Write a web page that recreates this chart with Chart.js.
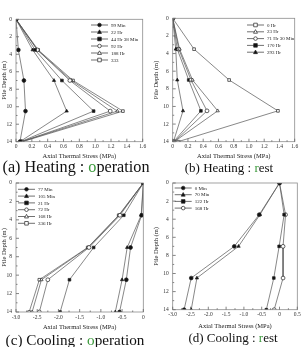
<!DOCTYPE html>
<html>
<head>
<meta charset="utf-8">
<script src="https://cdn.jsdelivr.net/npm/chart.js@4/dist/chart.umd.min.js"></script>
<style>
  body { margin: 0; background: #fff; }
  #wrap { position: relative; width: 305px; height: 347px; overflow: hidden; }
  canvas { position: absolute; }
  .cap { position: absolute; text-align: center; font-family: "Liberation Serif", serif; font-size: 13px; color: #111; white-space: nowrap; }
  .cap span { color: #3c9a3c; }
</style>
</head>
<body>
<div id="wrap">
  <canvas id="pa" width="152" height="160" style="left:0;top:0"></canvas>
  <canvas id="pb" width="153" height="160" style="left:152px;top:0"></canvas>
  <canvas id="pc" width="152" height="160" style="left:0;top:172px"></canvas>
  <canvas id="pd" width="153" height="160" style="left:152px;top:172px"></canvas>
  <div class="cap" style="left:0;top:158px;width:152px;font-size:16.2px">(a) Heating : <span>o</span>peration</div>
  <div class="cap" style="left:153px;top:160px;width:152px">(b) Heating : <span>r</span>est</div>
  <div class="cap" style="left:0;top:331px;width:150px;font-size:15.2px">(c) Cooling : <span>o</span>peration</div>
  <div class="cap" style="left:157px;top:330px;width:152px">(d) Cooling : <span>r</span>est</div>
</div>
<script>
// pile depths (m) where stresses were measured
const depths = [0, 3.5, 7, 10.5, 14];

// (a) heating : operation
const aLabels = ["99 Min", "22 Hr", "44 Hr 38 Min", "92 Hr", "188 Hr", "333"];
const a99 = [0, 0.03, 0.10, 0.12, 0.05];
const a22 = [0, 0.21, 0.48, 0.64, 0.05];
const a44 = [0, 0.24, 0.58, 0.98, 0.06];
const a92 = [0, 0.27, 0.68, 1.19, 0.07];
const a188 = [0, 0.27, 0.70, 1.28, 0.07];
const a333 = [0, 0.28, 0.72, 1.35, 0.08];

// (b) heating : rest
const bLabels = ["0 Hr", "23 Hr", "71 Hr 30 Min", "170 Hr", "293 Hr"];
const b0 = [0, 0.28, 0.74, 1.38, 0.07];
const b23 = [0, 0.09, 0.26, 0.59, 0.02];
const b71 = [0, 0.08, 0.24, 0.45, 0.02];
const b170 = [0, 0.06, 0.21, 0.37, 0.01];
const b293 = [0, 0.04, 0.06, 0.135, 0.01];

// (c) cooling : operation
const cLabels = ["77 Min", "105 Min", "21 Hr", "72 Hr", "168 Hr", "336 Hr"];
const c77 = [0, -0.04, -0.30, -0.40, -0.56];
const c105 = [0, -0.05, -0.38, -0.50, -0.66];
const c21 = [0, -0.46, -1.17, -1.74, -1.96];
const c72 = [0, -0.55, -1.28, -2.25, -2.45];
const c168 = [0, -0.57, -1.30, -2.40, -2.62];
const c336 = [0, -0.58, -1.31, -2.45, -2.69];

// (d) cooling : rest
const dLabels = ["0 Min", "70 Min", "122 Hr", "168 Hr"];
const d0 = [0, -0.57, -1.27, -2.48, -2.68];
const d70 = [0, -0.55, -1.15, -2.32, -2.48];
const d122 = [0, 0.13, -0.01, -0.16, -0.37];
const d168 = [0, 0.17, 0.10, 0.10, -0.15];

const SERIF = "'Liberation Serif', 'DejaVu Serif', serif";

// marker: [pointStyle, filled]
const MARK = {
  fc: ["circle", true], ft: ["triangle", true], fs: ["rect", true],
  oc: ["circle", false], ot: ["triangle", false], os: ["rect", false]
};

function drawMark(ctx, style, filled, x, y, r) {
  ctx.beginPath();
  if (style === "circle") ctx.arc(x, y, r, 0, Math.PI * 2);
  else if (style === "rect") ctx.rect(x - r, y - r, 2 * r, 2 * r);
  else { ctx.moveTo(x, y - r * 1.2); ctx.lineTo(x + r * 1.1, y + r * 0.8); ctx.lineTo(x - r * 1.1, y + r * 0.8); ctx.closePath(); }
  ctx.fillStyle = filled ? "#111" : "#fff";
  ctx.fill();
  ctx.strokeStyle = "#222";
  ctx.lineWidth = 0.7;
  ctx.stroke();
}

const framePlugin = {
  id: "frame",
  afterDraw(chart, args, o) {
    const { ctx, chartArea: a, scales } = chart;
    const xs = scales.x, ys = scales.y;
    ctx.save();
    ctx.strokeStyle = "#8c8c8c";
    ctx.lineWidth = 0.8;
    ctx.strokeRect(a.left, a.top, a.right - a.left, a.bottom - a.top);
    // inward ticks
    ctx.strokeStyle = "#666";
    ctx.beginPath();
    xs.ticks.forEach((t, i) => {
      const px = xs.getPixelForValue(t.value);
      ctx.moveTo(px, a.bottom); ctx.lineTo(px, a.bottom - 3);
      if (i < xs.ticks.length - 1) {
        const mx = xs.getPixelForValue((t.value + xs.ticks[i + 1].value) / 2);
        ctx.moveTo(mx, a.bottom); ctx.lineTo(mx, a.bottom - 1.5);
      }
    });
    ys.ticks.forEach(t => {
      const py = ys.getPixelForValue(t.value);
      const len = t.value % 2 === 0 ? 3 : 1.5;
      ctx.moveTo(a.left, py); ctx.lineTo(a.left + len, py);
    });
    ctx.stroke();
    // axis titles
    ctx.fillStyle = "#222";
    ctx.font = "6.5px " + SERIF;
    ctx.textAlign = "center";
    ctx.textBaseline = "middle";
    ctx.fillText("Axial Thermal Stress (MPa)", (a.left + a.right) / 2, o.xTitleY);
    ctx.save();
    ctx.translate(o.yTitleX, (a.top + a.bottom) / 2);
    ctx.rotate(-Math.PI / 2);
    ctx.fillText("Pile Depth (m)", 0, 0);
    ctx.restore();
    // legend inside the plot
    ctx.font = "5px " + SERIF;
    ctx.textAlign = "left";
    chart.data.datasets.forEach((ds, i) => {
      const y = o.legY + i * o.legStep;
      ctx.strokeStyle = "#333";
      ctx.lineWidth = 0.7;
      ctx.beginPath();
      ctx.moveTo(o.legX, y); ctx.lineTo(o.legX + 17, y);
      ctx.stroke();
      drawMark(ctx, ds.pointStyle, ds.filled, o.legX + 8.5, y, 1.8);
      ctx.fillStyle = "#222";
      ctx.fillText(ds.label, o.legX + 20, y + 0.3);
    });
    ctx.restore();
  }
};

function makePanel(id, labels, series, marks, xr, box) {
  const datasets = series.map((vals, i) => {
    const [style, filled] = MARK[marks[i]];
    return {
      label: labels[i],
      data: vals.map((v, j) => ({ x: v, y: depths[j] })),
      borderColor: "#555",
      borderWidth: 0.7,
      pointStyle: style,
      filled: filled,
      pointRadius: 1.9,
      pointBorderWidth: 0.7,
      pointBorderColor: "#222",
      pointBackgroundColor: filled ? "#111" : "#fff",
      tension: 0
    };
  });
  const canvas = document.getElementById(id);
  new Chart(canvas.getContext("2d"), {
    type: "line",
    data: { datasets },
    plugins: [framePlugin],
    options: {
      responsive: false,
      animation: false,
      layout: { padding: { left: 0, top: box.top, right: canvas.width - box.right, bottom: 0 } },
      plugins: {
        legend: { display: false },
        tooltip: { enabled: false },
        frame: box.frame
      },
      scales: {
        x: {
          type: "linear", min: xr[0], max: xr[1],
          ticks: { stepSize: xr[2], color: "#333", font: { family: SERIF, size: 5.5 }, padding: 2, maxRotation: 0 },
          grid: { display: false, drawTicks: false },
          border: { display: false },
          afterFit: s => { s.height = canvas.height - box.bottom; }
        },
        y: {
          type: "linear", reverse: true, min: 0, max: 14,
          ticks: {
            stepSize: 1, autoSkip: false, color: "#333", font: { family: SERIF, size: 5.5 }, padding: 4,
            callback: v => (v % 2 === 0 ? v : "")
          },
          grid: { display: false, drawTicks: false },
          border: { display: false },
          afterFit: s => { s.width = box.left; }
        }
      }
    }
  });
}

makePanel("pa", aLabels, [a99, a22, a44, a92, a188, a333], ["fc", "ft", "fs", "oc", "ot", "os"],
  [0, 1.6, 0.2],
  { left: 16, top: 19.3, right: 142.7, bottom: 141.7,
    frame: { xTitleY: 156, yTitleX: 4, legX: 91, legY: 25, legStep: 7 } });

makePanel("pb", bLabels, [b0, b23, b71, b170, b293], ["os", "ot", "oc", "fs", "ft"],
  [0, 1.6, 0.2],
  { left: 20.7, top: 18.3, right: 142.7, bottom: 141.7,
    frame: { xTitleY: 156, yTitleX: 4, legX: 95, legY: 25, legStep: 6.8 } });

makePanel("pc", cLabels, [c77, c105, c21, c72, c168, c336], ["fc", "ft", "fs", "oc", "ot", "os"],
  [-3, 0, 0.5],
  { left: 16, top: 11, right: 143.3, bottom: 140,
    frame: { xTitleY: 155, yTitleX: 4, legX: 18, legY: 17.3, legStep: 6.8 } });

makePanel("pd", dLabels, [d0, d70, d122, d168], ["fc", "ft", "fs", "oc"],
  [-3, 0.5, 0.5],
  { left: 20.7, top: 11, right: 145.3, bottom: 137.7,
    frame: { xTitleY: 154, yTitleX: 4, legX: 22.7, legY: 16, legStep: 6.7 } });
</script>
</body>
</html>
